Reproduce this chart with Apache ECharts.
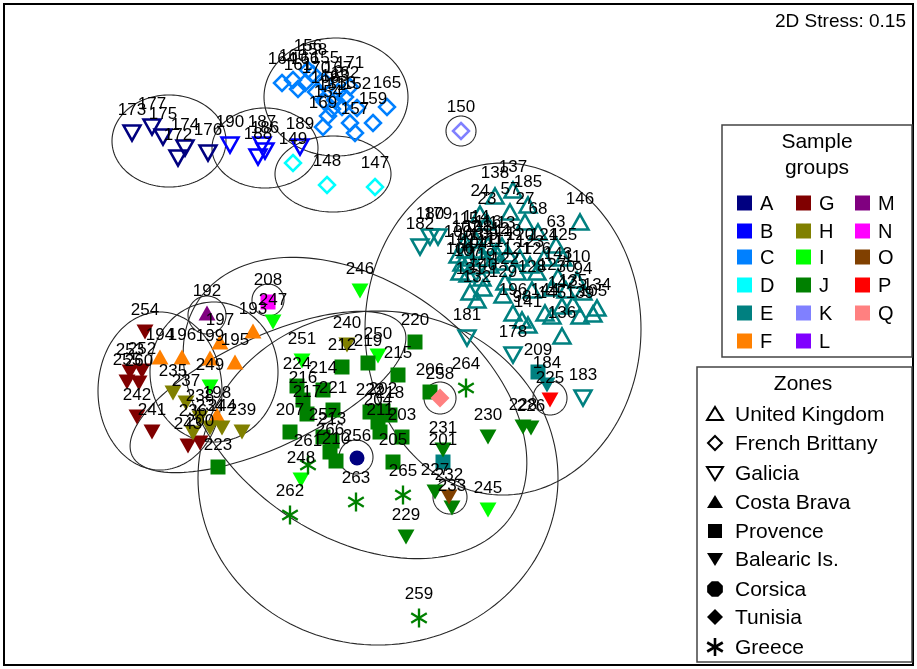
<!DOCTYPE html>
<html>
<head>
<meta charset="utf-8">
<script src="https://cdn.jsdelivr.net/npm/echarts@6/dist/echarts.min.js"></script>
<style>
html,body{margin:0;padding:0;background:#fff}
#chart{width:917px;height:669px}
</style>
</head>
<body>
<div id="chart"></div>
<script>
// nMDS ordination of samples: [x, y, sample id, zone index]
// zone index: 0 UK, 1 Brittany, 2 Galicia, 3 Costa Brava, 4 Provence, 5 Balearic, 6 Corsica, 7 Tunisia, 8 Greece
const groupA = [[132,133,'173',2],[152,127,'177',2],[163,137,'175',2],[185,148,'174',2],[178,158,'172',2],[208,153,'176',2],[357,458,'256',6]];
const groupB = [[230,145,'190',2],[262,145,'187',2],[258,157,'188',2],[265,151,'186',2],[300,147,'189',2]];
const groupC = [[282,83,'164',1],[293,80,'160',1],[298,89,'161',1],[305,83,'166',1],[308,70,'156',1],[313,74,'158',1],[316,92,'170',1],[325,82,'155',1],[325,102,'168',1],[335,100,'163',1],[338,92,'167',1],[342,107,'153',1],[345,97,'162',1],[350,87,'171',1],[332,109,'151',1],[328,116,'154',1],[357,108,'152',1],[323,127,'169',1],[350,123,'',1],[355,133,'157',1],[373,123,'159',1],[387,107,'165',1]];
const groupD = [[293,163,'149',1],[327,185,'148',1],[375,187,'147',1]];
const groupE = [
  [495,196,'138',0],[513,190,'137',0],[528,205,'185',0],[510,212,'57',0],[487,222,'23',0],[480,214,'24',0],[525,222,'27',0],[538,232,'68',0],[556,245,'63',0],[580,222,'146',0],
  [458,255,'100',0],[462,263,'101',0],[466,250,'102',0],[470,258,'103',0],[474,266,'104',0],[460,272,'106',0],[468,274,'107',0],[478,250,'108',0],[484,258,'109',0],[490,265,'111',0],[496,252,'112',0],[502,246,'113',0],[476,240,'114',0],[465,242,'115',0],[488,245,'116',0],[500,262,'117',0],[508,254,'118',0],[482,278,'119',0],
  [520,258,'120',0],[517,272,'121',0],[505,282,'122',0],[530,265,'123',0],[544,258,'124',0],[558,277,'143',0],[563,258,'125',0],[537,272,'126',0],[552,288,'127',0],[566,290,'30',0],[577,280,'110',0],[583,292,'94',0],[532,290,'128',0],[503,295,'129',0],[483,288,'140',0],[470,292,'131',0],[477,300,'132',0],
  [513,313,'196',0],[522,320,'98',0],[528,325,'141',0],[545,313,'144',0],[552,316,'145',0],[562,306,'142',0],[573,304,'135',0],[593,314,'105',0],[562,336,'136',0],[580,316,'139',0],[597,308,'134',0],
  [420,247,'182',2],[430,237,'180',2],[438,237,'179',2],[467,338,'181',2],[513,355,'178',2],[583,398,'183',2],
  [538,372,'209',4],[443,462,'201',4],
  [547,385,'184',5]
];
const groupF = [[253,331,'193',3],[220,342,'197',3],[160,357,'194',3],[182,357,'196',3],[210,358,'199',3],[235,362,'195',3],[217,415,'198',3]];
const groupG = [[145,332,'254',5],[142,371,'252',5],[130,372,'253',5],[127,382,'255',5],[139,383,'260',5],[137,417,'242',5],[152,432,'241',5],[188,446,'243',5],[200,443,'200',5]];
const groupH = [[347,345,'240',5],[173,393,'235',5],[186,403,'237',5],[200,418,'238',5],[210,428,'234',5],[193,433,'236',5],[222,428,'244',5],[242,432,'239',5]];
const groupI = [[360,291,'246',5],[273,322,'247',5],[210,387,'249',5],[302,361,'251',5],[378,356,'250',5],[301,480,'248',5],[488,510,'245',5]];
const groupJ = [
  [342,367,'212',4],[368,363,'219',4],[398,375,'215',4],[415,342,'220',4],[297,386,'224',4],[323,390,'214',4],[303,400,'216',4],[333,410,'221',4],[307,414,'217',4],[290,432,'207',4],[323,437,'257',4],[332,441,'213',4],[330,452,'266',4],[336,461,'210',4],[370,412,'222',4],[383,411,'202',4],[390,415,'218',4],[378,422,'204',4],[380,432,'211',4],[402,437,'203',4],[393,462,'205',4],[430,392,'206',4],[218,467,'223',4],
  [443,450,'231',5],[488,437,'230',5],[523,427,'228',5],[531,428,'226',5],[406,537,'229',5],[452,508,'233',5],[435,492,'227',5],
  [466,388,'264',8],[308,465,'261',8],[290,515,'262',8],[356,502,'263',8],[403,495,'265',8],[419,618,'259',8]
];
const groupK = [[461,131,'150',1]];
const groupL = [];
const groupM = [[207,313,'192',3]];
const groupN = [[268,302,'208',4]];
const groupO = [[449,497,'232',5]];
const groupP = [[550,400,'225',5]];
const groupQ = [[440,398,'258',7]];

// group envelopes: [centre x, centre y, radius x, radius y, rotation deg]
const envelopes = [
  [169,141,57,46,0],[265,148,53,40,0],[336,97,72,59,0],[333,174,58,38,0],[461,131,15,15,0],
  [503,329,138,166,0],[378,478,180,167,0],[355,408,190,127,35],[160,391,62,79,0],[214,372,64,70,0],
  [268,392,150,55,-25],[207,315,19,19,0],[268,300,16,16,0],[356,457,17,17,0],[440,398,16,16,0],
  [450,497,17,17,0],[550,398,17,17,0]
];

const groupNames = ['A','B','C','D','E','F','G','H','I','J','K','L','M','N','O','P','Q'];
const groupData = [groupA,groupB,groupC,groupD,groupE,groupF,groupG,groupH,groupI,groupJ,groupK,groupL,groupM,groupN,groupO,groupP,groupQ];
const groupColors = ['#000080','#0000FF','#0080FF','#00FFFF','#008080','#FF8000','#800000','#808000','#00FF00','#008000','#8080FF','#8000FF','#800080','#FF00FF','#804000','#FF0000','#FF8080'];
const zoneNames = ['United Kingdom','French Brittany','Galicia','Costa Brava','Provence','Balearic Is.','Corsica','Tunisia','Greece'];
const stressText = '2D Stress: 0.15';

const FONT = '"Liberation Sans", Arial, sans-serif';
const DOWN = 'path://M0,0L16,0L8,14Z';

function asteriskPath() {
  const L = 10, t = 1.3, parts = [];
  [90, 30, -30].forEach(a => {
    const r = a * Math.PI / 180, c = Math.cos(r), s = Math.sin(r), px = -s, py = c;
    const pts = [[L*c+t*px, L*s+t*py],[L*c-t*px, L*s-t*py],[-L*c-t*px, -L*s-t*py],[-L*c+t*px, -L*s+t*py]];
    parts.push('M' + pts.map(p => p[0].toFixed(2) + ',' + p[1].toFixed(2)).join('L') + 'Z');
  });
  return 'path://' + parts.join('');
}
const STAR = asteriskPath();

const zoneSymbols = [
  {symbol: 'triangle', size: [17, 15], open: true},
  {symbol: 'diamond', size: [16, 16], open: true},
  {symbol: DOWN, size: [17, 15], open: true},
  {symbol: 'triangle', size: [17, 15], open: false},
  {symbol: 'rect', size: [15, 15], open: false},
  {symbol: DOWN, size: [17, 15], open: false},
  {symbol: 'circle', size: [15, 15], open: false},
  {symbol: 'diamond', size: [19, 19], open: false},
  {symbol: STAR, size: [18, 19], open: false}
];

const series = [];

// envelopes drawn first, under the points
series.push({
  type: 'custom',
  silent: true,
  clip: false,
  z: 1,
  data: envelopes,
  encode: {x: 0, y: 1},
  renderItem: function (params, api) {
    const cx = api.value(0), cy = api.value(1), rx = api.value(2), ry = api.value(3);
    const a = api.value(4) * Math.PI / 180;
    const pts = [];
    for (let i = 0; i <= 160; i++) {
      const t = i / 160 * 2 * Math.PI;
      const ex = rx * Math.cos(t), ey = ry * Math.sin(t);
      pts.push(api.coord([cx + ex * Math.cos(a) - ey * Math.sin(a), cy + ex * Math.sin(a) + ey * Math.cos(a)]));
    }
    return {type: 'polyline', shape: {points: pts}, style: {fill: 'none', stroke: '#262626', lineWidth: 1.1}};
  }
});

groupData.forEach((rows, gi) => {
  const color = groupColors[gi];
  zoneSymbols.forEach((zs, zi) => {
    const data = rows.filter(r => r[3] === zi);
    if (!data.length) return;
    series.push({
      type: 'scatter',
      name: groupNames[gi] + ' ' + zoneNames[zi],
      data: data,
      encode: {x: 0, y: 1},
      symbol: zs.symbol,
      symbolSize: zs.size,
      symbolKeepAspect: zi === 8,
      z: 3,
      itemStyle: zs.open
        ? {color: 'rgba(255,255,255,0)', borderColor: color, borderWidth: 2.5, opacity: 1}
        : {color: color, borderWidth: 0, opacity: 1},
      label: {
        show: true,
        position: 'top',
        distance: 6,
        formatter: p => p.value[2],
        color: '#000',
        opacity: 1,
        fontSize: 17,
        fontFamily: FONT
      },
      emphasis: {disabled: true}
    });
  });
});

const graphic = [];
graphic.push({type: 'rect', shape: {x: 4, y: 4, width: 909, height: 661}, style: {fill: 'none', stroke: '#000', lineWidth: 2}, z: 10});
graphic.push({type: 'text', style: {text: stressText, x: 906, y: 22, textAlign: 'right', textVerticalAlign: 'middle', font: '19px ' + FONT, fill: '#000'}, z: 10});

// legend: sample groups
graphic.push({type: 'rect', shape: {x: 722, y: 125, width: 190, height: 232}, style: {fill: '#fff', stroke: '#444', lineWidth: 1.5}, z: 10});
graphic.push({type: 'text', style: {text: 'Sample', x: 817, y: 142, textAlign: 'center', textVerticalAlign: 'middle', font: '21px ' + FONT, fill: '#000'}, z: 11});
graphic.push({type: 'text', style: {text: 'groups', x: 817, y: 168, textAlign: 'center', textVerticalAlign: 'middle', font: '21px ' + FONT, fill: '#000'}, z: 11});
const colX = [737, 796, 855], rowY = [203, 231, 257, 285, 313, 341];
groupNames.forEach((g, i) => {
  const col = Math.floor(i / 6), row = i % 6;
  graphic.push({type: 'rect', shape: {x: colX[col], y: rowY[row] - 7.5, width: 15, height: 15}, style: {fill: groupColors[i]}, z: 11});
  graphic.push({type: 'text', style: {text: g, x: colX[col] + 23, y: rowY[row] + 1, textVerticalAlign: 'middle', font: '20px ' + FONT, fill: '#000'}, z: 11});
});

// legend: zones
graphic.push({type: 'rect', shape: {x: 697, y: 367, width: 215, height: 295}, style: {fill: '#fff', stroke: '#444', lineWidth: 1.5}, z: 10});
graphic.push({type: 'text', style: {text: 'Zones', x: 803, y: 384, textAlign: 'center', textVerticalAlign: 'middle', font: '21px ' + FONT, fill: '#000'}, z: 11});
const zoneRowY = [414, 443, 473, 502, 531, 559, 589, 617, 647];
function zoneIcon(zi, cx, cy) {
  const stroke = {fill: 'none', stroke: '#000', lineWidth: 2};
  const fill = {fill: '#000'};
  const up = [[cx - 8, cy + 6], [cx + 8, cy + 6], [cx, cy - 7]];
  const down = [[cx - 8, cy - 6], [cx + 8, cy - 6], [cx, cy + 7]];
  const dia = [[cx, cy - 8], [cx + 8, cy], [cx, cy + 8], [cx - 8, cy]];
  switch (zi) {
    case 0: return [{type: 'polygon', shape: {points: up}, style: stroke}];
    case 1: return [{type: 'polygon', shape: {points: [[cx, cy - 7], [cx + 7, cy], [cx, cy + 7], [cx - 7, cy]]}, style: stroke}];
    case 2: return [{type: 'polygon', shape: {points: down}, style: stroke}];
    case 3: return [{type: 'polygon', shape: {points: up}, style: fill}];
    case 4: return [{type: 'rect', shape: {x: cx - 7, y: cy - 7, width: 14, height: 14}, style: fill}];
    case 5: return [{type: 'polygon', shape: {points: down}, style: fill}];
    case 6: {
      const pts = [];
      for (let k = 0; k < 8; k++) { const a = (k + 0.5) * Math.PI / 4; pts.push([cx + 8.5 * Math.cos(a), cy + 8.5 * Math.sin(a)]); }
      return [{type: 'polygon', shape: {points: pts}, style: fill}];
    }
    case 7: return [{type: 'polygon', shape: {points: dia}, style: fill}];
    default: {
      const out = [];
      [90, 30, -30].forEach(a => {
        const r = a * Math.PI / 180, dx = 9 * Math.cos(r), dy = 9 * Math.sin(r);
        out.push({type: 'line', shape: {x1: cx - dx, y1: cy - dy, x2: cx + dx, y2: cy + dy}, style: {stroke: '#000', lineWidth: 2.6}});
      });
      return out;
    }
  }
}
zoneNames.forEach((z, i) => {
  zoneIcon(i, 715, zoneRowY[i]).forEach(el => { el.z = 11; graphic.push(el); });
  graphic.push({type: 'text', style: {text: z, x: 735, y: zoneRowY[i] + 1, textVerticalAlign: 'middle', font: '21px ' + FONT, fill: '#000'}, z: 11});
});

const chart = echarts.init(document.getElementById('chart'), null, {renderer: 'canvas'});
chart.setOption({
  animation: false,
  backgroundColor: '#fff',
  grid: {left: 0, right: 0, top: 0, bottom: 0},
  xAxis: {type: 'value', min: 0, max: 917, show: false},
  yAxis: {type: 'value', min: 0, max: 669, inverse: true, show: false},
  tooltip: {show: false},
  series: series,
  graphic: graphic
});
</script>
</body>
</html>
